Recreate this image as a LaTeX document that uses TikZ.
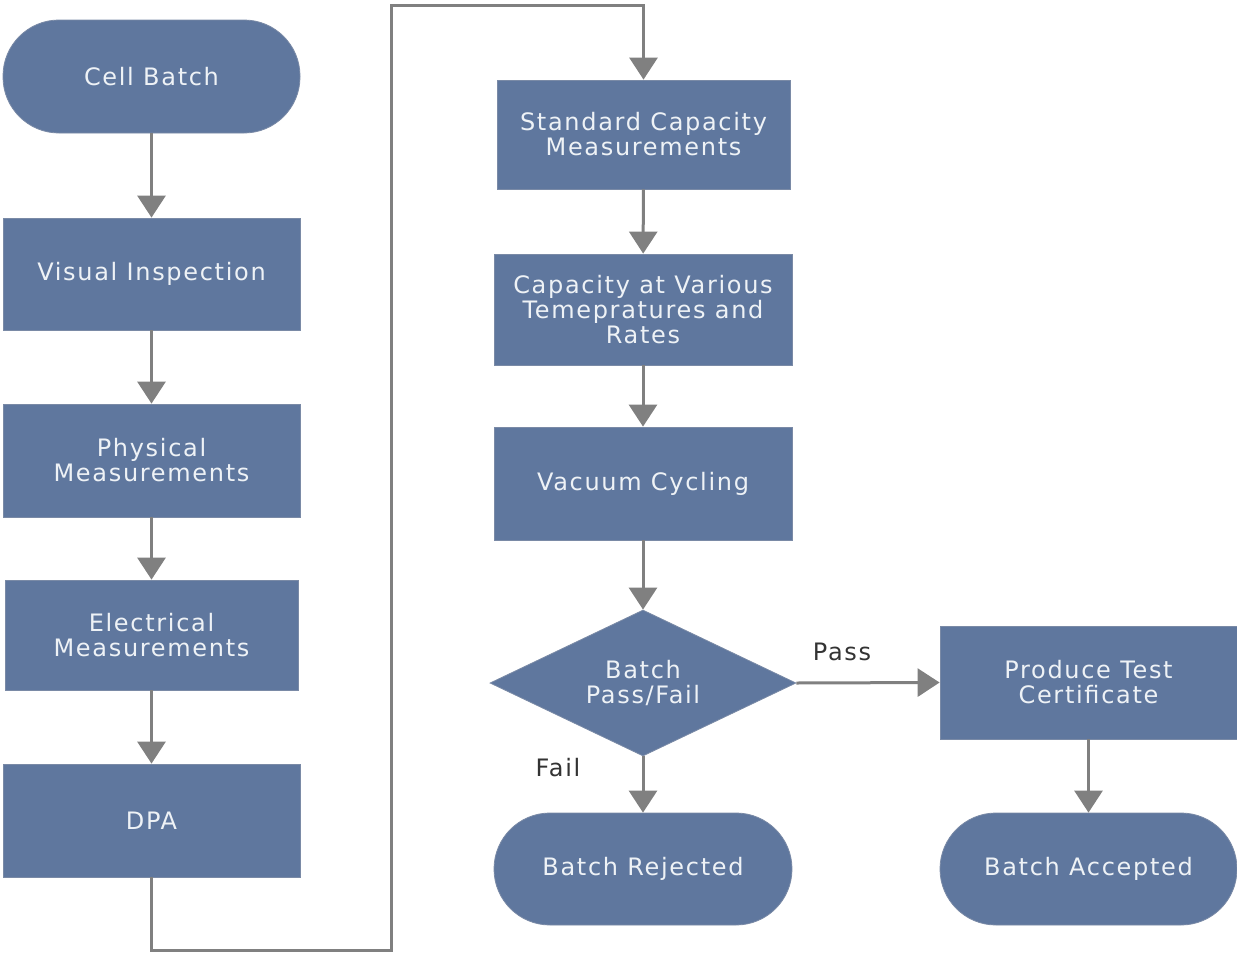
\documentclass[tikz,border=0pt]{standalone}
\usepackage{fontspec}
\setmainfont{DejaVu Sans}[LetterSpace=7]
\usetikzlibrary{shapes.geometric,arrows.meta}
\definecolor{boxfill}{HTML}{5F779E}
\definecolor{boxedge}{HTML}{7A8AA6}
\definecolor{linegray}{HTML}{808080}
\definecolor{txt}{HTML}{EEF2F6}
\definecolor{lbl}{HTML}{333333}
\begin{document}
\begin{tikzpicture}[x=1pt,y=-1pt,
  base/.style={fill=boxfill,draw=boxedge,line width=0.8pt,text=txt,
    font=\fontsize{24}{25}\selectfont,align=center,inner sep=0pt},
  procbox/.style={base,rectangle},
  termbox/.style={base,rectangle,rounded corners=56pt},
  decbox/.style={base,diamond,aspect=2.1},
  conn/.style={draw=linegray,line width=3pt,-{Triangle[width=28pt,length=22pt]}},
  lab/.style={text=lbl,font=\fontsize{24}{25}\selectfont,inner sep=0pt}]
\useasboundingbox (0,0) rectangle (1237,953);

\node[termbox,minimum width=297pt,minimum height=113pt] (cell) at (151.5,76.5) {Cell Batch};
\node[procbox,minimum width=297pt,minimum height=112pt] (visual) at (151.5,274) {Visual Inspection};
\node[procbox,minimum width=297pt,minimum height=113pt] (phys) at (151.5,460.5) {Physical\\Measurements};
\node[procbox,minimum width=293pt,minimum height=110pt] (elec) at (151.5,635) {Electrical\\Measurements};
\node[procbox,minimum width=297pt,minimum height=113pt] (dpa) at (151.5,820.5) {DPA};

\node[procbox,minimum width=293pt,minimum height=109pt] (std) at (643.5,134.5) {Standard Capacity\\Measurements};
\node[procbox,minimum width=298pt,minimum height=111pt] (capv) at (643,309.5) {Capacity at Various\\Temepratures and\\Rates};
\node[procbox,minimum width=298pt,minimum height=113pt] (vac) at (643,483.5) {Vacuum Cycling};
\node[decbox,minimum width=306pt,minimum height=146pt] (dec) at (643,683) {Batch\\Pass/Fail};
\node[termbox,minimum width=298pt,minimum height=112pt] (rej) at (643,869) {Batch Rejected};

\node[procbox,minimum width=297pt,minimum height=113pt] (cert) at (1088.5,682.5) {Produce Test\\Certificate};
\node[termbox,minimum width=297pt,minimum height=112pt] (acc) at (1088.5,869) {Batch Accepted};

\coordinate (b1) at (151.5,950);
\coordinate (b2) at (391,950);
\coordinate (b3) at (391,5);
\coordinate (b4) at (643.5,5);

\draw[conn] (cell) -- (visual);
\draw[conn] (visual) -- (phys);
\draw[conn] (phys) -- (elec);
\draw[conn] (elec) -- (dpa);
\draw[conn] (dpa.south) -- (b1) -- (b2) -- (b3) -- (b4) -- (std.north);
\draw[conn] (std) -- (capv);
\draw[conn] (capv) -- (vac);
\draw[conn] (vac) -- (dec);
\draw[conn] (dec) -- (rej);
\draw[conn] (dec.east) -- (cert.west);
\draw[conn] (cert) -- (acc);

\node[lab] (passlbl) at (842,652) {Pass};
\node[lab] (faillbl) at (558,768) {Fail};
\end{tikzpicture}
\end{document}
